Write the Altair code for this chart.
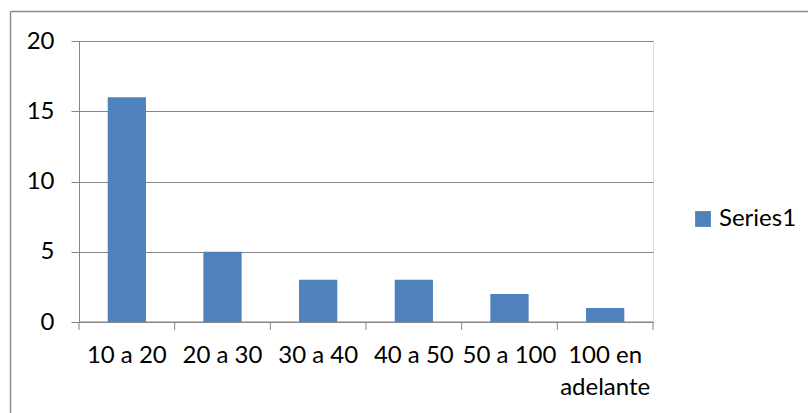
import altair as alt
import pandas as pd

# Frequency by range
categories = ["10 a 20", "20 a 30", "30 a 40", "40 a 50", "50 a 100", "100 en adelante"]
values = [16, 5, 3, 3, 2, 1]
series_name = "Series1"

BAR_BLUE = "#4F81BD"
GRID_GRAY = "#868686"
FONT = "Lato"
FONT_SIZE = 24

W, H = 574, 281

df = pd.DataFrame({"rango": categories, "valor": values, "serie": series_name})
last_df = df.tail(1)

x_scale = alt.Scale(domain=categories, paddingInner=0, paddingOuter=0)

base = alt.Chart(df)

bars = base.mark_bar(width={"band": 0.4}).encode(
    x=alt.X(
        "rango:N",
        scale=x_scale,
        sort=categories,
        title=None,
        axis=alt.Axis(
            labelAngle=0,
            ticks=False,
            domain=False,
            grid=False,
            labelFont=FONT,
            labelFontSize=FONT_SIZE,
            labelColor="#000000",
            labelPadding=21,
            labelExpr="datum.value == '100 en adelante' ? ['100 en', 'adelante'] : datum.value",
            labelLineHeight=32,
            labelBaseline="top",
        ),
    ),
    y=alt.Y(
        "valor:Q",
        scale=alt.Scale(domain=[0, 20], nice=False),
        title=None,
        axis=alt.Axis(
            values=[0, 5, 10, 15, 20],
            grid=True,
            gridColor=GRID_GRAY,
            gridWidth=1,
            domain=True,
            domainColor=GRID_GRAY,
            domainWidth=1,
            ticks=True,
            tickSize=8,
            tickColor=GRID_GRAY,
            tickWidth=1,
            labelFont=FONT,
            labelFontSize=FONT_SIZE,
            labelColor="#000000",
            labelPadding=17,
        ),
    ),
    color=alt.Color(
        "serie:N",
        scale=alt.Scale(domain=[series_name], range=[BAR_BLUE]),
        legend=alt.Legend(
            title=None,
            orient="none",
            legendX=612,
            legendY=166,
            symbolType="square",
            symbolSize=250,
            symbolStrokeWidth=0,
            symbolOffset=0,
            padding=0,
            labelOffset=4,
            labelFont=FONT,
            labelFontSize=FONT_SIZE,
            labelColor="#000000",
        ),
    ),
)

# Category-boundary tick marks below the x baseline
x_ticks = base.mark_rule(color=GRID_GRAY, strokeWidth=1).encode(
    x=alt.X("rango:N", scale=x_scale, sort=categories, bandPosition=0),
    y=alt.value(H),
    y2=alt.value(H + 8),
)
x_tick_end = alt.Chart(last_df).mark_rule(color=GRID_GRAY, strokeWidth=1).encode(
    x=alt.X("rango:N", scale=x_scale, sort=categories, bandPosition=1),
    y=alt.value(H),
    y2=alt.value(H + 8),
)

# Baseline along zero
baseline = alt.Chart(last_df).mark_rule(color=GRID_GRAY, strokeWidth=1).encode(
    x=alt.value(0), x2=alt.value(W), y=alt.value(H)
)

# Outer chart frame (top and left edges)
frame_top = alt.Chart(last_df).mark_rule(color="#8c8c8c", strokeWidth=1.5).encode(
    x=alt.value(-68.5), x2=alt.value(W + 200), y=alt.value(-29.5)
)
frame_left = alt.Chart(last_df).mark_rule(color="#8c8c8c", strokeWidth=1.5).encode(
    x=alt.value(-68.5), y=alt.value(-29.5), y2=alt.value(H + 200)
)

chart = (
    alt.layer(frame_top, frame_left, bars, baseline, x_ticks, x_tick_end)
    .properties(
        width=W,
        height=H,
        autosize=alt.AutoSizeParams(type="none"),
        padding={"left": 79, "top": 41, "right": 155, "bottom": 91},
    )
    .configure_view(stroke=None)
    .configure(background="#ffffff")
)

chart.save("out.html", embed_options={"renderer": "svg", "actions": False})
